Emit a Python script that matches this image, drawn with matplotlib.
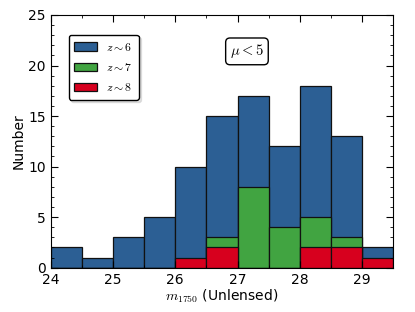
import matplotlib
matplotlib.use('Agg')
import matplotlib.pyplot as plt
from matplotlib.ticker import MultipleLocator

plt.rcParams['mathtext.fontset'] = 'cm'

# bin edges and counts
bin_left = [24.0, 24.5, 25.0, 25.5, 26.0, 26.5, 27.0, 27.5, 28.0, 28.5, 29.0]
n_z6 = [2, 1, 3, 5, 10, 15, 17, 12, 18, 13, 2]
n_z7 = [0, 0, 0, 0, 0, 3, 8, 4, 5, 3, 0]
n_z8 = [0, 0, 0, 0, 1, 2, 0, 0, 2, 2, 1]
labels = ['$z \\sim 6$', '$z \\sim 7$', '$z \\sim 8$']

blue = '#2c5f94'
green = '#41a441'
red = '#d7001e'

fig = plt.figure(figsize=(4.15, 3.12), dpi=100)
ax = fig.add_axes([0.122, 0.142, 0.826, 0.81])

for counts, col, lab in [(n_z6, blue, labels[0]), (n_z7, green, labels[1]), (n_z8, red, labels[2])]:
    ax.bar(bin_left, counts, width=0.5, align='edge', color=col,
           edgecolor='#111111', linewidth=0.9, label=lab)

ax.set_xlim(24, 29.5)
ax.set_ylim(0, 25)
ax.xaxis.set_major_locator(MultipleLocator(1))
ax.yaxis.set_major_locator(MultipleLocator(5))
ax.yaxis.set_minor_locator(MultipleLocator(1))
ax.xaxis.set_minor_locator(MultipleLocator(0.5))
ax.tick_params(which='both', direction='in', top=True, right=True, labelsize=10)
ax.tick_params(which='major', length=5)
ax.tick_params(which='minor', length=2.5)

ax.set_xlabel('$m_{1750}$ (Unlensed)', fontsize=10, labelpad=1)
ax.set_ylabel('Number', fontsize=10, labelpad=2)

leg = ax.legend(loc='upper left', bbox_to_anchor=(0.035, 0.945), fontsize=8.5,
                fancybox=True, shadow={'color': '0.8', 'alpha': 0.6},
                handlelength=1.9, handleheight=0.7, borderpad=0.5,
                labelspacing=0.6, handletextpad=0.8, framealpha=1)
leg.get_frame().set_edgecolor('black')

ax.text(27.15, 21.4, '$\\mu < 5$', fontsize=10.5, ha='center', va='center',
        bbox=dict(boxstyle='round,pad=0.3', facecolor='white', edgecolor='black'))

fig.savefig('out.png', dpi=100)
